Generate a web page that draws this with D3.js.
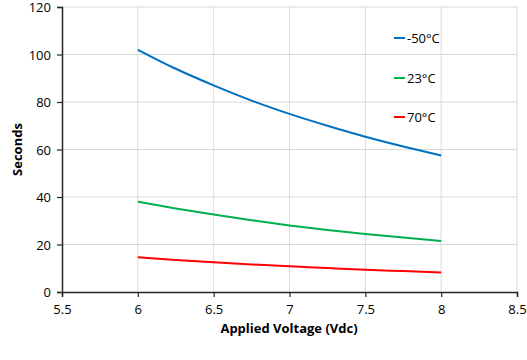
<!DOCTYPE html>
<html><head><meta charset="utf-8">
<script src="https://cdn.jsdelivr.net/npm/d3@7"></script>
<style>body{margin:0;background:#fff}svg{display:block}text{font-family:"Open Sans","Liberation Sans",sans-serif}</style>
</head><body><svg id="c" width="527" height="360"></svg>
<script>
const voltages = [6, 6.25, 6.5, 6.75, 7, 7.25, 7.5, 7.75, 8];
const seriesNames = ["-50°C", "23°C", "70°C"];
const seriesColors = ["#0070C0", "#00B050", "#FF0000"];
const blue = [102, 94.0, 87.0, 80.6, 75.0, 70.0, 65.4, 61.3, 57.5];
const green = [38, 35.2, 32.6, 30.2, 28.0, 26.1, 24.4, 22.9, 21.5];
const red = [14.6, 13.5, 12.5, 11.6, 10.8, 10.1, 9.4, 8.8, 8.2];
const seriesValues = [blue, green, red];
const xTicks = [5.5, 6, 6.5, 7, 7.5, 8, 8.5];
const yTicks = [0, 20, 40, 60, 80, 100, 120];

const svg = d3.select("#c");
const x = d3.scaleLinear().domain([5.5, 8.5]).range([62, 517]);
const y = d3.scaleLinear().domain([0, 120]).range([292, 7]);

// grid
svg.append("g").selectAll("line").data(xTicks.slice(1)).join("line")
  .attr("x1", d => x(d)).attr("x2", d => x(d)).attr("y1", y(120)).attr("y2", y(0))
  .attr("stroke", "#d9d9d9").attr("stroke-width", 1);
svg.append("g").selectAll("line").data(yTicks.slice(1)).join("line")
  .attr("x1", x(5.5)).attr("x2", x(8.5)).attr("y1", d => y(d)).attr("y2", d => y(d))
  .attr("stroke", "#d9d9d9").attr("stroke-width", 1);

// axes
const xAxis = svg.append("g").attr("transform", `translate(0,${y(0)})`)
  .call(d3.axisBottom(x).tickValues(xTicks).tickFormat(d3.format("")).tickSizeOuter(0).tickSize(5).tickPadding(8));
const yAxis = svg.append("g").attr("transform", `translate(${x(5.5)},0)`)
  .call(d3.axisLeft(y).tickValues(yTicks).tickSizeOuter(0).tickSize(5).tickPadding(6));
[xAxis, yAxis].forEach(a => {
  a.select(".domain").attr("stroke", "#262626").attr("stroke-width", 1.5);
  a.selectAll(".tick line").attr("stroke", "#262626").attr("stroke-width", 1.2);
  a.selectAll("text").attr("font-size", 13).attr("fill", "#000")
    .attr("font-family", '"Open Sans","Liberation Sans",sans-serif');
});
yAxis.selectAll("text").attr("dy", "0.38em");

// lines
const line = d3.line().x((d, i) => x(voltages[i])).y(d => y(d)).curve(d3.curveMonotoneX);
seriesValues.forEach((vals, k) => {
  svg.append("path").datum(vals).attr("d", line)
    .attr("fill", "none").attr("stroke", seriesColors[k]).attr("stroke-width", 2);
});

// legend
const legY = [38, 78, 117];
seriesNames.forEach((n, k) => {
  svg.append("line").attr("x1", 394).attr("x2", 405).attr("y1", legY[k]).attr("y2", legY[k])
    .attr("stroke", seriesColors[k]).attr("stroke-width", 2);
  svg.append("text").attr("x", 407).attr("y", legY[k]).attr("dy", "0.36em")
    .attr("font-size", 13).attr("fill", "#000").text(n);
});

// titles
svg.append("text").attr("x", 289).attr("y", 333).attr("text-anchor", "middle")
  .attr("font-size", 13).attr("font-weight", "bold").text("Applied Voltage (Vdc)");
svg.append("text").attr("transform", `translate(22,${y(60)}) rotate(-90)`).attr("text-anchor", "middle")
  .attr("font-size", 13).attr("font-weight", "bold").text("Seconds");
</script></body></html>
